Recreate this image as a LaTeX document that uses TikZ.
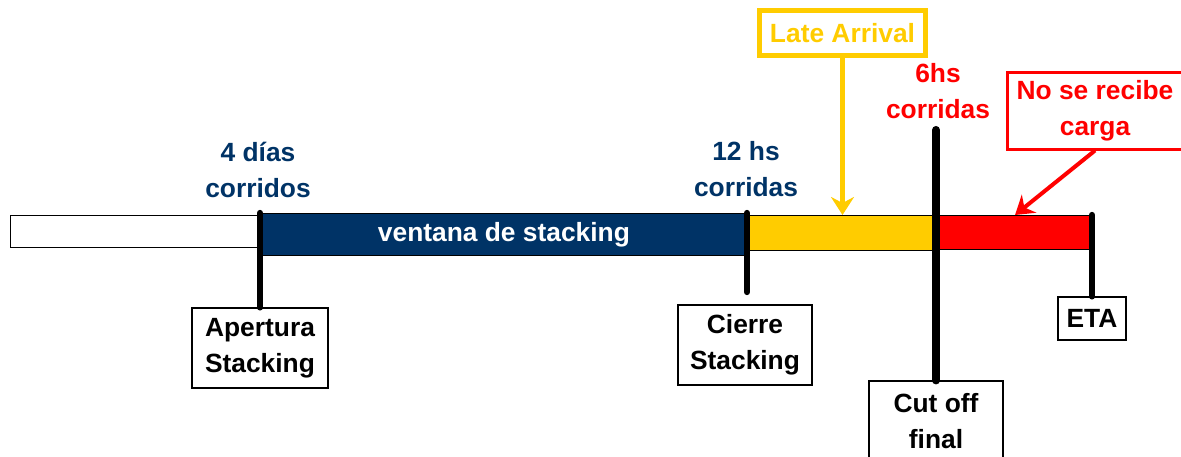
\documentclass[tikz,border=0pt]{standalone}
\usepackage{fontspec}
\setmainfont{Liberation Sans}
\usetikzlibrary{arrows.meta}
\definecolor{navy}{RGB}{0,51,102}
\definecolor{gold}{RGB}{255,204,0}
\definecolor{alarm}{RGB}{255,0,0}
\begin{document}
\begin{tikzpicture}[x=0.2mm, y=-0.2mm,
  font=\fontsize{15}{20.5}\selectfont\bfseries,
  bar/.style={draw=black, line width=0.5pt, inner sep=0pt, anchor=north west},
  label box/.style={draw=black, line width=0.7pt, fill=white, align=center, inner sep=0pt},
  tick/.style={line width=3.6pt, line cap=round},
  note/.style={align=center, inner sep=0pt},
  pointer/.style={-{Stealth[length=3.6mm, width=4.6mm, inset=1.2mm]}}]
\useasboundingbox (0,0) rectangle (1181,456);

% time bar
\node[bar, fill=white, minimum width=50mm, minimum height=6.4mm] (antes) at (10,215) {};
\node[bar, fill=navy, text=white, minimum width=97.4mm, minimum height=8.4mm] (ventana) at (260,213) {ventana de stacking};
\node[bar, fill=gold, minimum width=38mm, minimum height=7mm] (late) at (747,215) {};
\node[bar, fill=alarm, minimum width=30.6mm, minimum height=6.8mm] (cerrado) at (937,215) {};

% milestones
\node[label box, minimum width=27.2mm, minimum height=16mm] (apertura) at (260,348) {Apertura\\Stacking};
\node[label box, minimum width=26.8mm, minimum height=16mm] (cierre) at (745,345) {Cierre\\Stacking};
\node[label box, minimum width=26.8mm, minimum height=16mm] (cutoff) at (936,421) {Cut off\\final};
\node[label box, minimum width=13.6mm, minimum height=8.6mm] (eta) at (1092,318.5) {ETA};

\coordinate (topcut) at (936,130);
\coordinate (cierrefoot) at (747,292);
\draw[tick] (apertura.north |- ventana.north) -- (apertura.north);
\draw[tick] (cierrefoot |- ventana.north) -- (cierrefoot);
\draw[line width=4.6pt, line cap=round] (topcut) -- (cutoff.north);
\draw[tick] (eta.north |- cerrado.north) -- (eta.north);

% durations
\node[note, text=navy] (dias) at (258,170) {4 días\\corridos};
\node[note, text=navy] (doce) at (746,169) {12 hs\\corridas};
\node[note, text=alarm] (seis) at (938,91) {6hs\\corridas};

% callouts
\node[draw=gold, line width=1mm, fill=white, text=gold, minimum width=33.2mm, minimum height=9mm, inner sep=0pt] (arrival) at (842.5,33) {Late Arrival};
\draw[gold, line width=1mm, pointer] (arrival.south) -- (arrival.south |- late.north);

\node[draw=alarm, line width=0.6mm, fill=white, text=alarm, align=center, minimum width=35.2mm, minimum height=15.4mm, inner sep=0pt] (norecibe) at (1095,110.5) {No se recibe\\carga};
\coordinate (nrtip) at (1015,215);
\draw[alarm, line width=0.8mm, pointer] (norecibe.south) -- (nrtip);
\end{tikzpicture}
\end{document}
